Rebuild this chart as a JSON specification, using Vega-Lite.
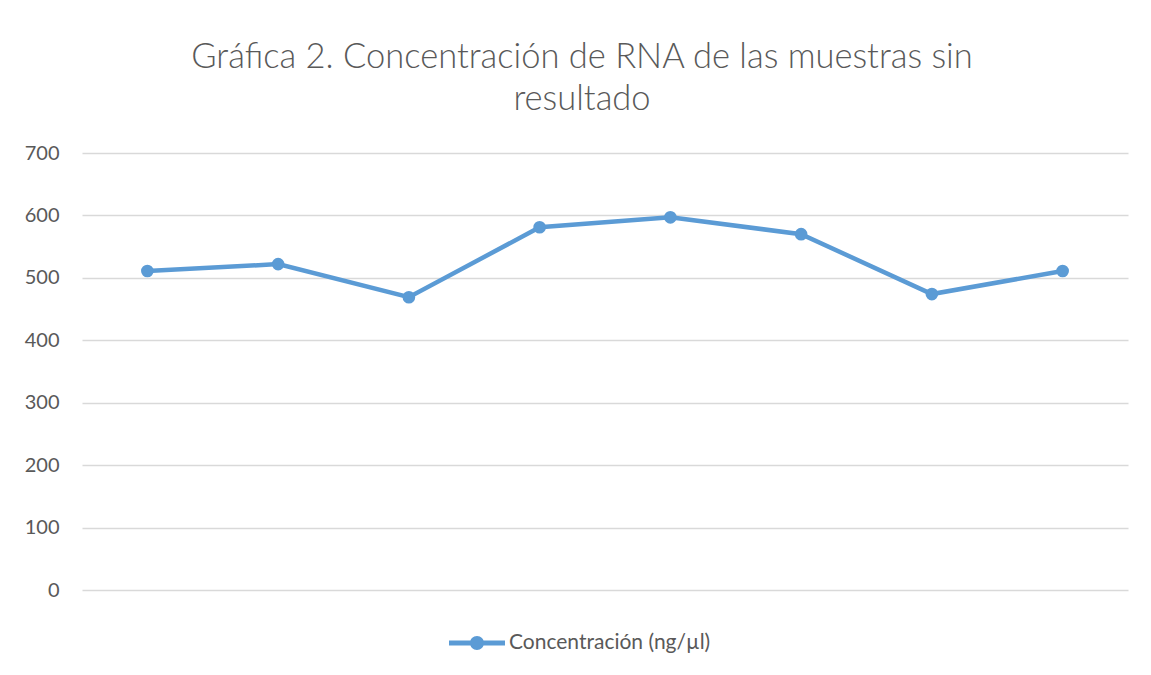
{
  "$schema": "https://vega.github.io/schema/vega-lite/v6.json",
  "autosize": "none",
  "width": 1046,
  "height": 437,
  "padding": {"left": 82, "top": 153, "right": 23, "bottom": 85},
  "background": "white",
  "config": {
    "font": "Lato",
    "view": {"stroke": null},
    "axis": {"labelColor": "#595959", "labelFont": "Lato", "labelFontSize": 20}
  },
  "title": {
    "text": ["Gráfica 2. Concentración de RNA de las muestras sin", "resultado"],
    "font": "Lato",
    "fontSize": 34.5,
    "fontWeight": 300,
    "color": "#595959",
    "anchor": "middle",
    "dx": -23,
    "offset": 26,
    "lineHeight": 42
  },
  "data": {
    "values": [
      {"muestra": 1, "valor": 511, "serie": "Concentración (ng/µl)"},
      {"muestra": 2, "valor": 522, "serie": "Concentración (ng/µl)"},
      {"muestra": 3, "valor": 469, "serie": "Concentración (ng/µl)"},
      {"muestra": 4, "valor": 581, "serie": "Concentración (ng/µl)"},
      {"muestra": 5, "valor": 597, "serie": "Concentración (ng/µl)"},
      {"muestra": 6, "valor": 570, "serie": "Concentración (ng/µl)"},
      {"muestra": 7, "valor": 474, "serie": "Concentración (ng/µl)"},
      {"muestra": 8, "valor": 511, "serie": "Concentración (ng/µl)"}
    ]
  },
  "mark": {"type": "line", "strokeWidth": 4.5, "point": {"filled": true, "size": 160, "opacity": 1}},
  "encoding": {
    "x": {
      "field": "muestra",
      "type": "ordinal",
      "scale": {"type": "point", "padding": 0.5},
      "axis": {"labels": false, "ticks": false, "domain": false, "title": null, "grid": false}
    },
    "y": {
      "field": "valor",
      "type": "quantitative",
      "scale": {"domain": [0, 700]},
      "axis": {
        "values": [0, 100, 200, 300, 400, 500, 600, 700],
        "title": null,
        "ticks": false,
        "domain": false,
        "labelPadding": 23,
        "gridColor": "#d9d9d9",
        "gridWidth": 1.5
      }
    },
    "color": {
      "field": "serie",
      "type": "nominal",
      "scale": {"range": ["#5B9BD5"]},
      "legend": {
        "title": null,
        "orient": "none",
        "legendX": 381,
        "legendY": 476,
        "symbolType": "M-2,-0.18L2,-0.18L2,0.18L-2,0.18Z M0.5,0A0.5,0.5 0 1 1 -0.5,0A0.5,0.5 0 1 1 0.5,0Z",
        "symbolSize": 784,
        "symbolFillColor": "#5B9BD5",
        "symbolStrokeWidth": 0,
        "symbolOpacity": 1,
        "labelFontSize": 21,
        "labelLimit": 400,
        "labelColor": "#595959",
        "labelOffset": 18,
        "labelFont": "Lato"
      }
    }
  }
}
